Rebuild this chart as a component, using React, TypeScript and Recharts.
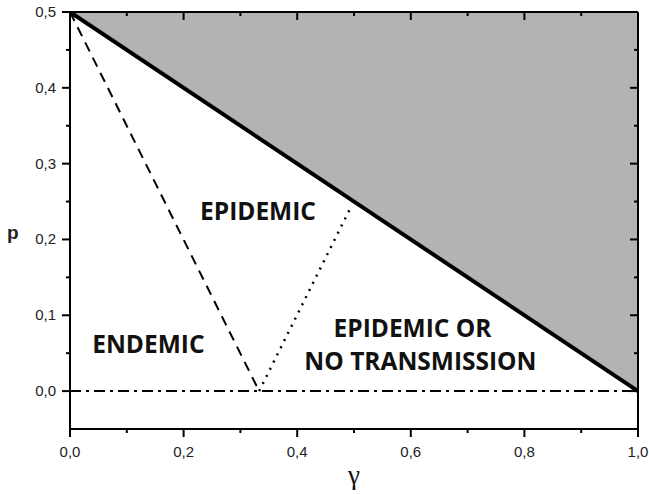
import React from "react";
import {
  Area,
  ComposedChart,
  Line,
  ReferenceDot,
  XAxis,
  YAxis,
} from "recharts";

// region boundaries in the (gamma, p) plane
const boundaryGamma = [0, 1];
const boundaryP = [0.5, 0];
const dashedGamma = [0, 0.333];
const dashedP = [0.5, 0];
const dottedGamma = [0.333, 0.492];
const dottedP = [0, 0.239];
const zeroGamma = [0, 1];
const zeroP = [0, 0];
const topP = [0.5, 0.5];

const xTicks = [0, 0.1, 0.2, 0.3, 0.4, 0.5, 0.6, 0.7, 0.8, 0.9, 1.0];
const yTicks = [0, 0.05, 0.1, 0.15, 0.2, 0.25, 0.3, 0.35, 0.4, 0.45, 0.5];

const regionNames = ["EPIDEMIC", "ENDEMIC", "EPIDEMIC OR", "NO TRANSMISSION"];
const regionGamma = [0.331, 0.138, 0.603, 0.617];
const regionP = [0.237, 0.062, 0.083, 0.039];

const toRows = (xs: number[], ys: number[]) =>
  xs.map((g, i) => ({ g, p: ys[i] }));

const shadeRows = boundaryGamma.map((g, i) => ({
  g,
  band: [boundaryP[i], topP[i]],
}));

const fmt = (v: number) => v.toFixed(1).replace(".", ",");
const isMajor = (v: number, step: number) =>
  Math.abs(v / step - Math.round(v / step)) < 1e-6;

const AxisTick = ({ x, y, payload, side }: any) => {
  const v = payload.value;
  const horizontal = side === "bottom" || side === "top";
  const major = isMajor(v, horizontal ? 0.2 : 0.1);
  const len = major ? 8 : 4;
  let line;
  if (side === "bottom") line = { x1: x, y1: y, x2: x, y2: y + len };
  else if (side === "top") line = { x1: x, y1: y, x2: x, y2: y + len };
  else if (side === "left") line = { x1: x, y1: y, x2: x - len, y2: y };
  else line = { x1: x, y1: y, x2: x - len, y2: y };
  return (
    <g>
      <line {...line} stroke="#000" strokeWidth={2} />
      {major && side === "bottom" && (
        <text
          x={x}
          y={y + 28}
          textAnchor="middle"
          fontFamily="Liberation Sans, Arial, sans-serif"
          fontSize={15}
          fill="#222"
        >
          {fmt(v)}
        </text>
      )}
      {major && side === "left" && (
        <text
          x={x - 14}
          y={y + 5}
          textAnchor="end"
          fontFamily="Liberation Sans, Arial, sans-serif"
          fontSize={15}
          fill="#222"
        >
          {fmt(v)}
        </text>
      )}
    </g>
  );
};

const axisLine = { stroke: "#000", strokeWidth: 2 };

export default function App() {
  return (
    <div style={{ position: "absolute", left: 0, top: 0 }}>
      <ComposedChart
        width={649}
        height={494}
        margin={{ top: 12, right: 11, left: 0, bottom: 0 }}
      >
        <XAxis
          xAxisId={0}
          dataKey="g"
          type="number"
          domain={[0, 1]}
          ticks={xTicks}
          allowDataOverflow
          height={65}
          tickLine={false}
          tickSize={0}
          tickMargin={0}
          axisLine={axisLine}
          tick={(p: any) => <AxisTick {...p} side="bottom" />}
          label={{
            value: "γ",
            position: "insideBottom",
            offset: 10,
            fontFamily: "Liberation Serif, serif",
            fontSize: 27,
            fill: "#111",
          }}
        />
        <XAxis
          xAxisId="top"
          orientation="top"
          mirror
          dataKey="g"
          type="number"
          domain={[0, 1]}
          ticks={xTicks}
          allowDataOverflow
          height={1}
          tickLine={false}
          tickSize={0}
          tickMargin={0}
          axisLine={axisLine}
          tick={(p: any) => <AxisTick {...p} side="top" />}
        />
        <YAxis
          yAxisId={0}
          type="number"
          domain={[-0.05, 0.5]}
          ticks={yTicks}
          allowDataOverflow
          width={70}
          tickLine={false}
          tickSize={0}
          tickMargin={0}
          axisLine={axisLine}
          tick={(p: any) => <AxisTick {...p} side="left" />}
          label={{
            value: "p",
            position: "insideLeft",
            offset: 7,
            dy: 12,
            fontFamily: "Liberation Sans, Arial, sans-serif",
            fontWeight: 700,
            fontSize: 19,
            fill: "#222",
          }}
        />
        <YAxis
          yAxisId="right"
          orientation="right"
          mirror
          type="number"
          domain={[-0.05, 0.5]}
          ticks={yTicks}
          allowDataOverflow
          width={1}
          tickLine={false}
          tickSize={0}
          tickMargin={0}
          axisLine={axisLine}
          tick={(p: any) => <AxisTick {...p} side="right" />}
        />
        <Area
          data={shadeRows}
          dataKey="band"
          type="linear"
          fill="#b3b3b3"
          fillOpacity={1}
          stroke="none"
          isAnimationActive={false}
        />
        <Line
          data={toRows(zeroGamma, zeroP)}
          xAxisId="top"
          yAxisId="right"
          dataKey="p"
          type="linear"
          stroke="none"
          dot={false}
          legendType="none"
          isAnimationActive={false}
        />
        <Line
          data={toRows(zeroGamma, zeroP)}
          dataKey="p"
          type="linear"
          stroke="#000"
          strokeWidth={2}
          strokeDasharray="11 5 3 5"
          dot={false}
          isAnimationActive={false}
        />
        <Line
          data={toRows(dashedGamma, dashedP)}
          dataKey="p"
          type="linear"
          stroke="#000"
          strokeWidth={2}
          strokeDasharray="10 7"
          dot={false}
          isAnimationActive={false}
        />
        <Line
          data={toRows(dottedGamma, dottedP)}
          dataKey="p"
          type="linear"
          stroke="#000"
          strokeWidth={2.5}
          strokeDasharray="2 6"
          dot={false}
          isAnimationActive={false}
        />
        <Line
          data={toRows(boundaryGamma, boundaryP)}
          dataKey="p"
          type="linear"
          stroke="#000"
          strokeWidth={4}
          dot={false}
          isAnimationActive={false}
        />
        {regionNames.map((name, i) => (
          <ReferenceDot
            key={name}
            x={regionGamma[i]}
            y={regionP[i]}
            r={0}
            fill="none"
            stroke="none"
            label={{
              value: name,
              position: "center",
              fontFamily: "Open Sans, sans-serif",
              fontWeight: 700,
              fontSize: 24.5,
              fill: "#111",
            }}
          />
        ))}
      </ComposedChart>
    </div>
  );
}
